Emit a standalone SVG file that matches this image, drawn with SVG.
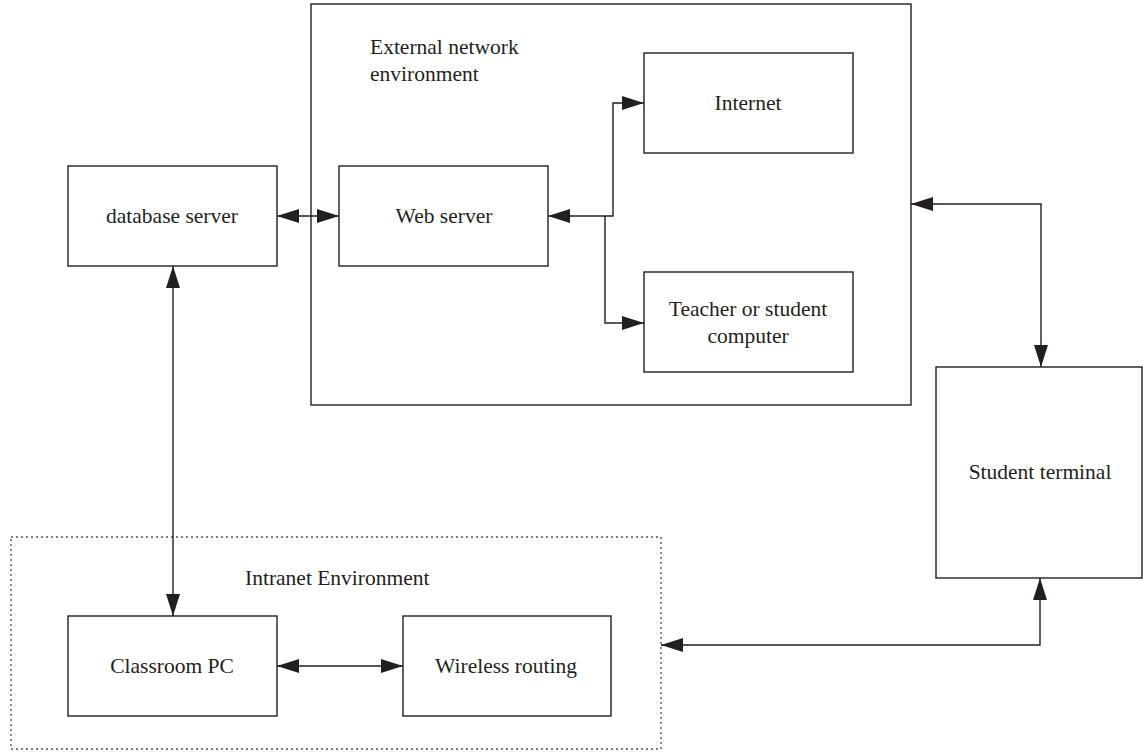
<svg xmlns="http://www.w3.org/2000/svg" width="1143" height="754" viewBox="0 0 1143 754">
<style>
.box{fill:#fff;stroke:#231f20;stroke-width:1.4}
.dot{fill:none;stroke:#555;stroke-width:1.4;stroke-dasharray:2 3}
.t{font-family:"Liberation Serif",serif;font-size:21.5px;fill:#231f20}
.c{text-anchor:middle}
.ln{fill:none;stroke:#231f20;stroke-width:1.4}
.ar{marker-start:url(#ah);marker-end:url(#ah)}
.ae{marker-end:url(#ah)}
</style>
<defs>
<marker id="ah" markerUnits="userSpaceOnUse" markerWidth="22" markerHeight="14" refX="22" refY="7" orient="auto-start-reverse">
<path d="M0,0 L22,7 L0,14 z" fill="#231f20"/>
</marker>
</defs>
<g id="external">
<rect class="box" x="311" y="4" width="600" height="401"/>
<text class="t" x="370" y="54">External network</text>
<text class="t" x="370" y="81">environment</text>
</g>
<g id="intranet">
<rect class="dot" x="11" y="537" width="650" height="212"/>
<text class="t" x="245" y="585">Intranet Environment</text>
</g>
<g id="internet">
<rect class="box" x="644" y="53" width="209" height="100"/>
<text class="t c" x="748" y="110">Internet</text>
</g>
<g id="webserver">
<rect class="box" x="339" y="166" width="209" height="100"/>
<text class="t c" x="444" y="223">Web server</text>
</g>
<g id="teacher">
<rect class="box" x="644" y="272" width="209" height="100"/>
<text class="t c" x="748" y="316">Teacher or student</text>
<text class="t c" x="748" y="343">computer</text>
</g>
<g id="database">
<rect class="box" x="68" y="166" width="209" height="100"/>
<text class="t c" x="172" y="223">database server</text>
</g>
<g id="student">
<rect class="box" x="936" y="367" width="206" height="211"/>
<text class="t c" x="1040" y="479">Student terminal</text>
</g>
<g id="classroom">
<rect class="box" x="68" y="616" width="209" height="100"/>
<text class="t c" x="172" y="673">Classroom PC</text>
</g>
<g id="wireless">
<rect class="box" x="403" y="616" width="208" height="100"/>
<text class="t c" x="506" y="673">Wireless routing</text>
</g>
<g id="connectors">
<line class="ln ar" x1="277" y1="216" x2="339" y2="216"/>
<path class="ln ar" d="M644,103 H613 V216 H548"/>
<path class="ln ae" d="M605,216 V323 H644"/>
<path class="ln ar" d="M911,204 H1041 V367"/>
<path class="ln ar" d="M1040,578 V645 H661"/>
<line class="ln ar" x1="173" y1="266" x2="173" y2="616"/>
<line class="ln ar" x1="277" y1="666" x2="403" y2="666"/>
</g>
</svg>
